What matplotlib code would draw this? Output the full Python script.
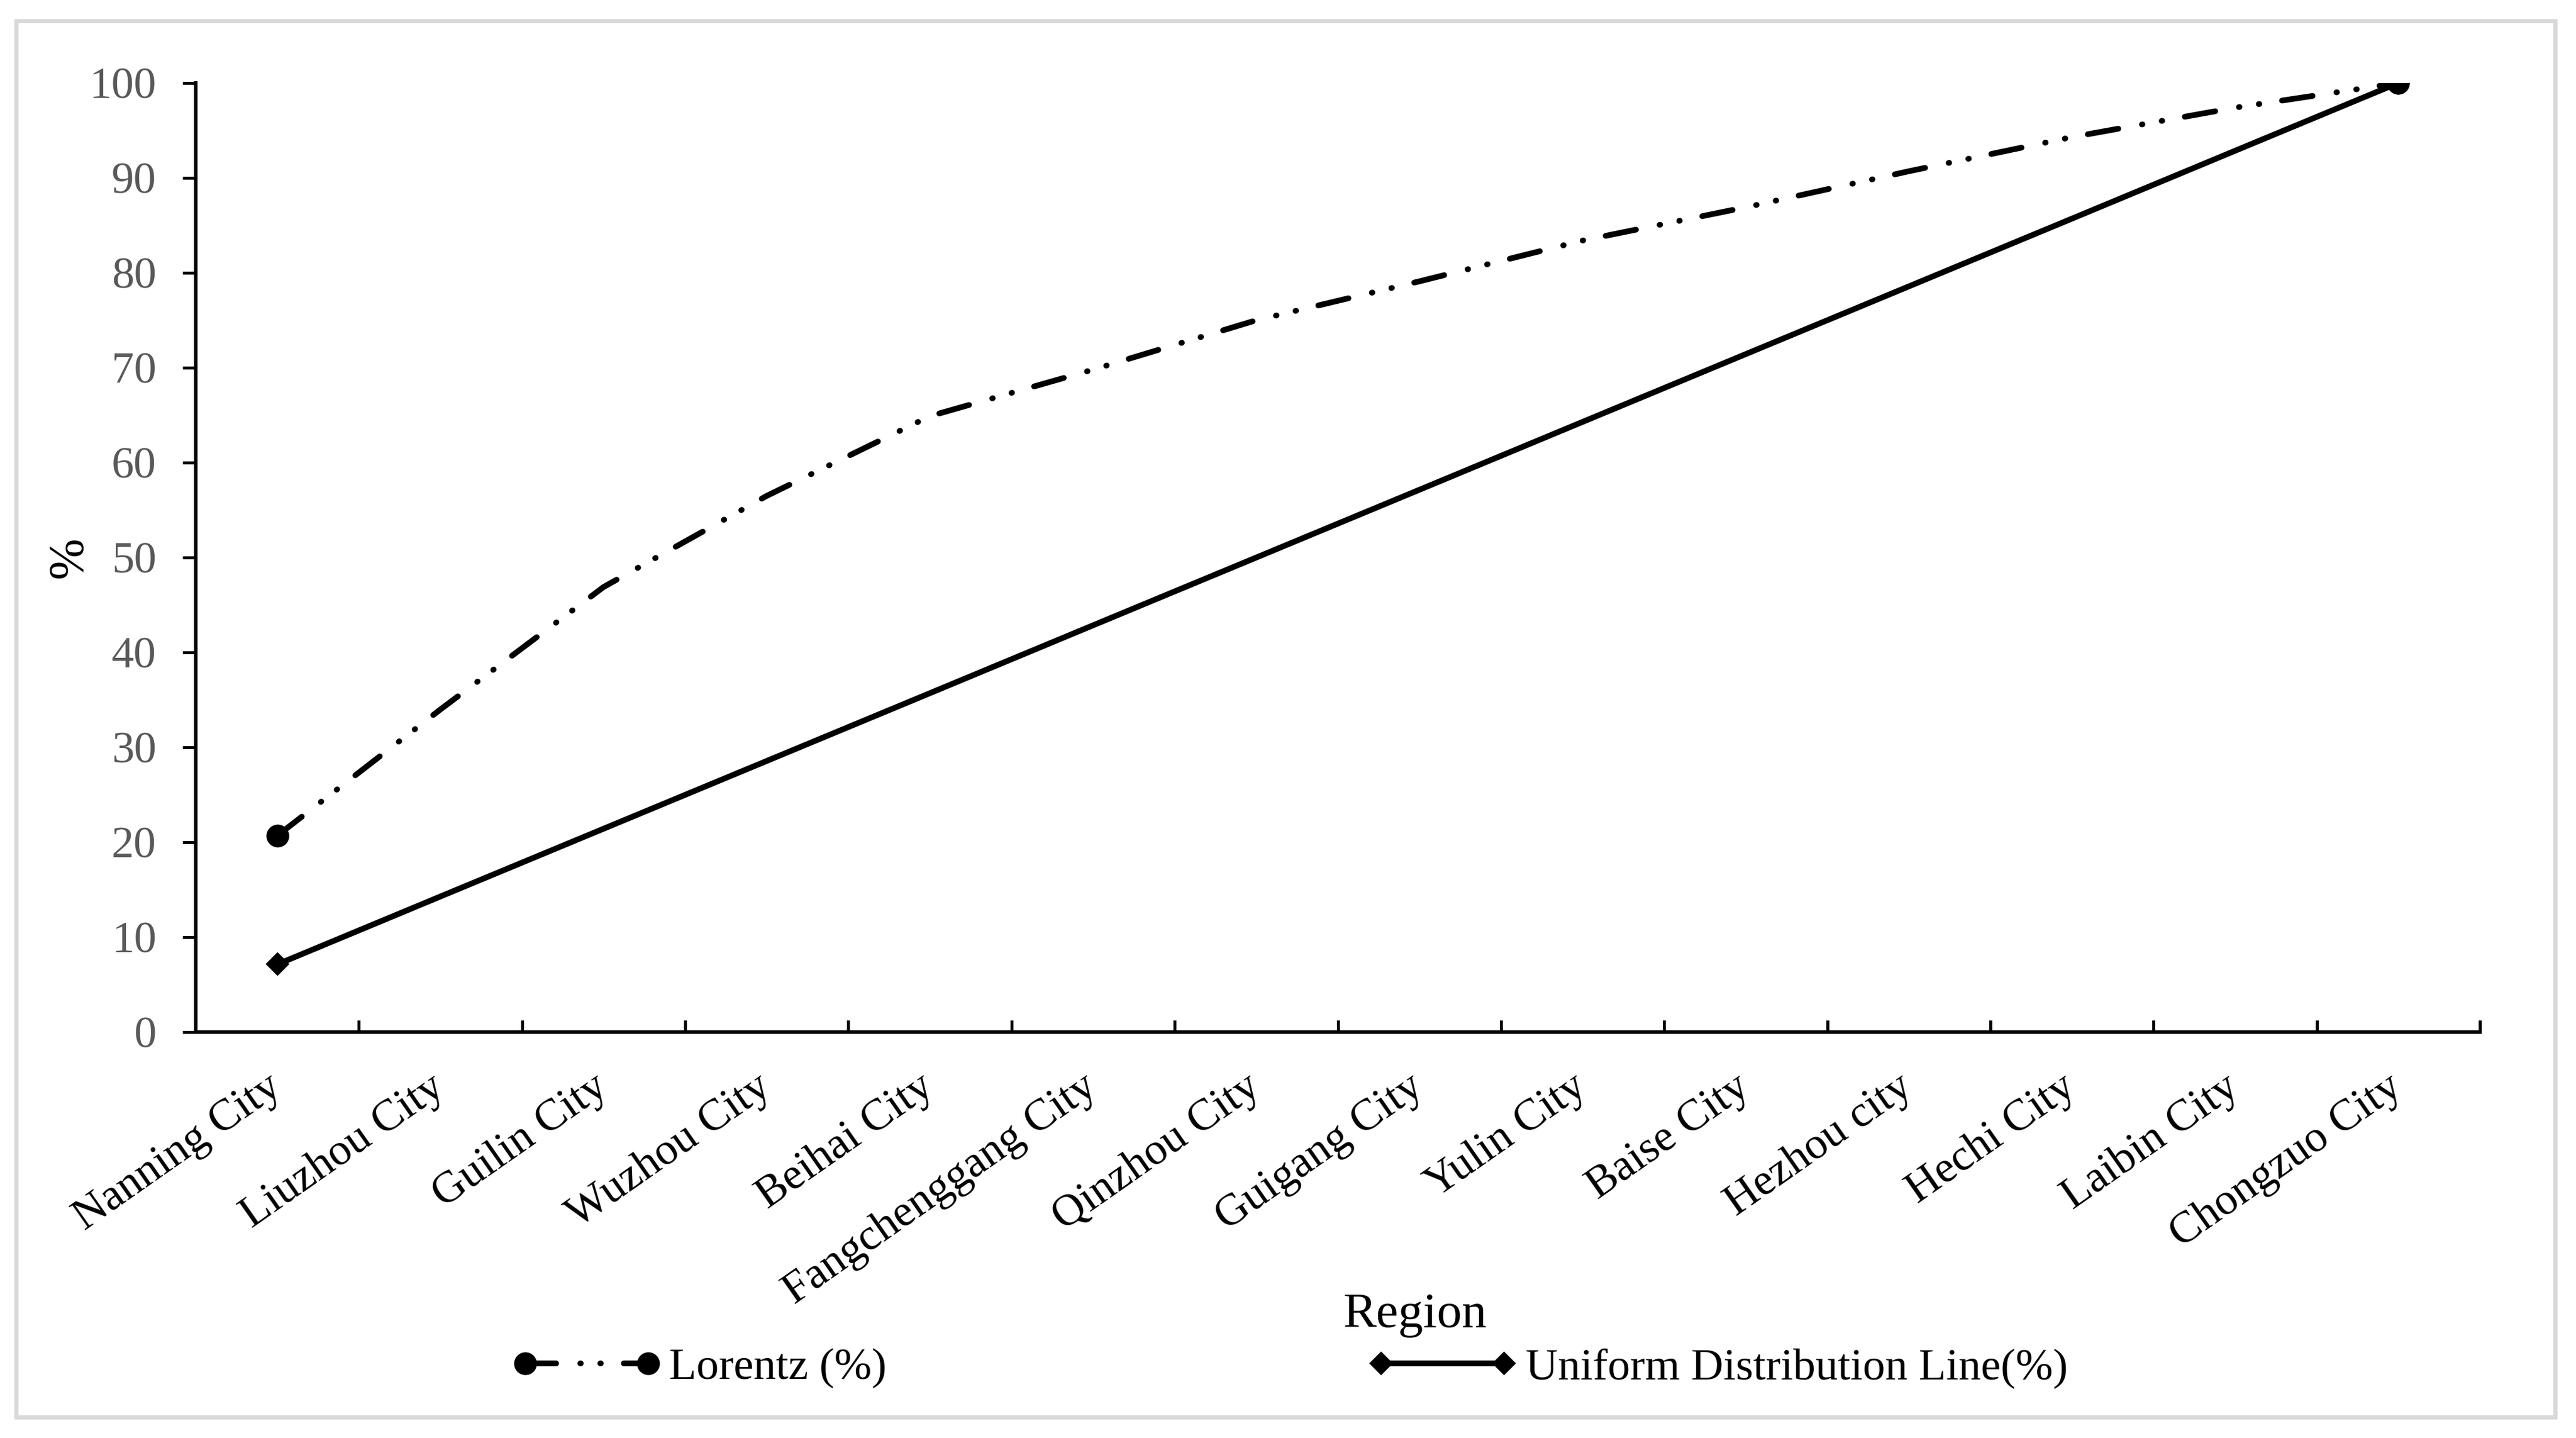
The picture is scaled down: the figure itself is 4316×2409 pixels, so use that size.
import matplotlib
matplotlib.use("Agg")
import matplotlib.pyplot as plt
from matplotlib.lines import Line2D
from matplotlib.patches import Rectangle
from matplotlib.ticker import FixedLocator
from matplotlib.transforms import ScaledTranslation

# ---------------- data ----------------
regions = ["Nanning City", "Liuzhou City", "Guilin City", "Wuzhou City", "Beihai City",
           "Fangchenggang City", "Qinzhou City", "Guigang City", "Yulin City", "Baise City",
           "Hezhou city", "Hechi City", "Laibin City", "Chongzuo City"]
lorentz = [20.7, 34.0, 46.9, 56.5, 64.9, 69.8, 75.0, 79.1, 83.4, 86.9, 90.7, 94.3, 97.4, 100.0]
uniform = [7.14, 14.29, 21.43, 28.57, 35.71, 42.86, 50.0, 57.14, 64.29, 71.43, 78.57, 85.71, 92.86, 100.0]
yticks = [0, 10, 20, 30, 40, 50, 60, 70, 80, 90, 100]
lorentz_label = "Lorentz (%)"
uniform_label = "Uniform Distribution Line(%)"
xlabel = "Region"
ylabel = "%"

# ---------------- style ----------------
W, H, DPI = 4316, 2409, 300
plt.rcParams['font.family'] = ['Liberation Serif', 'DejaVu Serif']
PX = 72.0 / DPI  # points per pixel

fig = plt.figure(figsize=(W / DPI, H / DPI), dpi=DPI)
fig.patch.set_facecolor('white')

# outer gray frame
fig.add_artist(Rectangle((27 / W, 1 - 2374 / H), (4281 - 27) / W, (2374 - 35) / H,
                         transform=fig.transFigure, fill=False, edgecolor='#d9d9d9',
                         linewidth=7 * PX))

left, right, top, bottom = 328, 4155, 139, 1729
ax = fig.add_axes([left / W, 1 - bottom / H, (right - left) / W, (bottom - top) / H])

x = list(range(len(regions)))
lw = 9.6 * PX
dash = (0, (5.4, 4.2, 0.1, 3.4, 0.1, 4.0))

ax.plot(x, lorentz, color='black', linewidth=lw, linestyle=dash,
        dash_capstyle='round', solid_capstyle='round', zorder=3)
ax.plot([x[0], x[-1]], [lorentz[0], lorentz[-1]], linestyle='none', marker='o',
        markersize=34 * PX, color='black', zorder=4)
ax.plot(x, uniform, color='black', linewidth=lw, linestyle='-', zorder=3)
ax.plot([x[0], x[-1]], [uniform[0], uniform[-1]], linestyle='none', marker='D',
        markersize=24 * PX, color='black', zorder=4)

ax.set_xlim(-0.5, len(regions) - 0.5)
ax.set_ylim(0, 100)
ax.set_yticks(yticks)
ax.set_yticklabels([str(v) for v in yticks], color='#595959', fontsize=18)

ax.set_xticks(x)
ax.set_xticklabels(regions, rotation=35, ha='right', va='top', rotation_mode='anchor',
                   fontsize=18, color='black')
ax.xaxis.set_minor_locator(FixedLocator([i - 0.5 for i in range(len(regions) + 1)]))
ax.tick_params(axis='x', which='major', length=0, pad=58 * PX)
ax.tick_params(axis='x', which='minor', direction='in', length=20 * PX, width=5 * PX,
               color='black')
ax.tick_params(axis='y', direction='out', length=22 * PX, width=5 * PX, pad=44 * PX,
               color='black')
shift = ScaledTranslation(-20 / DPI, 0, fig.dpi_scale_trans)
for lab in ax.get_xticklabels():
    lab.set_transform(lab.get_transform() + shift)

for s in ['top', 'right']:
    ax.spines[s].set_visible(False)
for s in ['left', 'bottom']:
    ax.spines[s].set_linewidth(6 * PX)
    ax.spines[s].set_color('black')

fig.text(2371 / W, 1 - 2223 / H, xlabel, ha='center', va='baseline', fontsize=20, color='black')
fig.text(116 / W, 1 - 934 / H, ylabel, ha='center', va='center', rotation=90,
         fontsize=20, color='black')

# legend
h1 = Line2D([], [], color='black', linewidth=lw, linestyle=dash, dash_capstyle='round',
            marker='o', markersize=34 * PX)
h2 = Line2D([], [], color='black', linewidth=lw, linestyle='-', marker='D',
            markersize=24 * PX)
leg = fig.legend([h1, h2], [lorentz_label, uniform_label], loc='center left',
                 bbox_to_anchor=(857 / W, 1 - 2292 / H), ncol=2, frameon=False,
                 fontsize=18, numpoints=2, handlelength=3.35, handletextpad=0.17,
                 columnspacing=10.75, borderpad=0, borderaxespad=0)

fig.savefig('out.png', dpi=DPI, facecolor='white')
